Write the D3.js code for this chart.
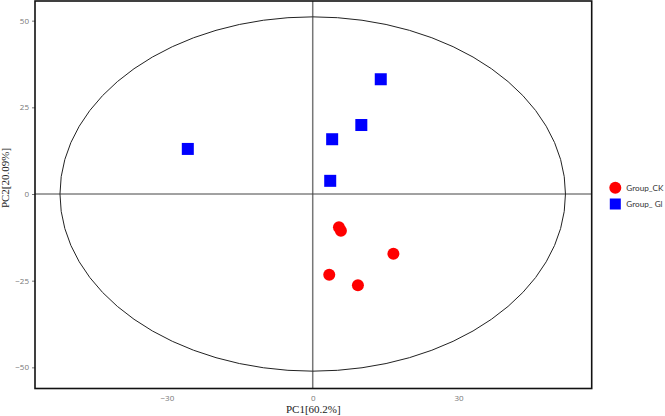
<!DOCTYPE html>
<html>
<head>
<meta charset="utf-8">
<style>
  body { margin:0; background:#fff; }
  svg { display:block; }
</style>
</head>
<body>
<div id="chart"></div>
<script src="https://d3js.org/d3.v7.min.js"></script>
<script>
  // sample scores
  var groups = ["Group_CK", "Group_ Gl"];
  var ckX = [5.4, 5.8, 16.6, 3.4, 9.3];
  var ckY = [-9.6, -10.6, -17.2, -23.3, -26.3];
  var glX = [14.0, 10.0, 4.0, 3.6, -25.7];
  var glY = [33.1, 19.9, 15.8, 3.8, 13.0];
  var xTicks = [-30, 0, 30];
  var yTicks = [-50, -25, 0, 25, 50];
  var ellipse = { cx: 0, cy: 0, rx: 52, ry: 51.1 };

  var W = 665, H = 416;
  var m = { top: 1, right: 73.3, bottom: 27.5, left: 35 };

  var svg = d3.select('#chart').append('svg')
      .attr('width', W)
      .attr('height', H);

  var x = d3.scaleLinear().domain([-57.14, 57.4]).range([m.left, W - m.right]);
  var y = d3.scaleLinear().domain([-56.1, 55.67]).range([H - m.bottom, m.top]);

  var g = svg.append('g');

  // axes
  var xAxis = g.append('g')
      .attr('transform', 'translate(0,' + (H - m.bottom) + ')')
      .call(d3.axisBottom(x).tickValues(xTicks).tickSize(0).tickPadding(7));
  var yAxis = g.append('g')
      .attr('transform', 'translate(' + m.left + ',0)')
      .call(d3.axisLeft(y).tickValues(yTicks).tickSize(3).tickPadding(3));
  [xAxis, yAxis].forEach(function(a){
    a.select('.domain').remove();
    a.selectAll('text')
      .style('font-family', '"Open Sans", sans-serif')
      .style('font-size', '8px')
      .attr('fill', '#777');
    a.selectAll('line').attr('stroke', '#777');
  });

  // cross lines through origin
  g.append('line')
      .attr('x1', x(0)).attr('x2', x(0))
      .attr('y1', m.top).attr('y2', H - m.bottom)
      .attr('stroke', '#777').attr('stroke-width', 1.5);
  g.append('line')
      .attr('x1', m.left).attr('x2', W - m.right)
      .attr('y1', y(0)).attr('y2', y(0))
      .attr('stroke', '#444').attr('stroke-width', 1);

  // confidence ellipse
  g.append('ellipse')
      .attr('cx', x(ellipse.cx))
      .attr('cy', y(ellipse.cy))
      .attr('rx', x(ellipse.rx) - x(0))
      .attr('ry', y(0) - y(ellipse.ry))
      .attr('fill', 'none')
      .attr('stroke', '#222')
      .attr('stroke-width', 1);

  // frame
  g.append('rect')
      .attr('x', m.left).attr('y', m.top)
      .attr('width', W - m.left - m.right)
      .attr('height', H - m.top - m.bottom)
      .attr('fill', 'none')
      .attr('stroke', '#111')
      .attr('stroke-width', 1.6);

  // points
  g.selectAll('.gl')
      .data(glX)
      .enter().append('rect')
      .attr('class', 'gl')
      .attr('x', function(d) { return x(d) - 6; })
      .attr('y', function(d, i) { return y(glY[i]) - 6; })
      .attr('width', 12).attr('height', 12)
      .attr('fill', '#0000ff');

  g.selectAll('.ck')
      .data(ckX)
      .enter().append('circle')
      .attr('class', 'ck')
      .attr('cx', function(d) { return x(d); })
      .attr('cy', function(d, i) { return y(ckY[i]); })
      .attr('r', 6)
      .attr('fill', '#ff0000');

  // axis titles
  svg.append('text')
      .attr('x', (m.left + W - m.right) / 2)
      .attr('y', 413)
      .attr('text-anchor', 'middle')
      .style('font-family', '"Liberation Serif", serif')
      .style('font-size', '11px')
      .attr('fill', '#222')
      .text('PC1[60.2%]');
  svg.append('text')
      .attr('transform', 'translate(8.5,178) rotate(-90)')
      .attr('text-anchor', 'middle')
      .style('font-family', '"Liberation Serif", serif')
      .style('font-size', '11px')
      .attr('fill', '#222')
      .text('PC2[20.09%]');

  // legend
  var leg = svg.append('g').attr('transform', 'translate(615.3,187.7)');
  leg.append('circle').attr('cx', 0).attr('cy', 0).attr('r', 6).attr('fill', '#ff0000');
  leg.append('rect').attr('x', -5.5).attr('y', 16.3 - 5.5).attr('width', 11).attr('height', 11).attr('fill', '#0000ff');
  leg.selectAll('text')
      .data(groups)
      .enter().append('text')
      .attr('x', 11)
      .attr('y', function(d, i) { return i * 16.3 + 3.1; })
      .style('font-family', 'Lato, sans-serif')
      .style('font-size', '8.2px')
      .attr('fill', '#333')
      .text(function(d) { return d; });
</script>
</body>
</html>
